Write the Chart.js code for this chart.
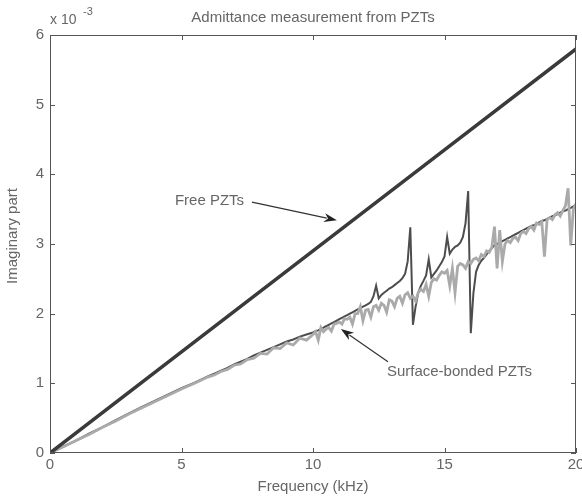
<!DOCTYPE html>
<html>
<head>
<meta charset="utf-8">
<script src="https://cdn.jsdelivr.net/npm/chart.js@4.4.1/dist/chart.umd.min.js"></script>
<style>
html,body{margin:0;padding:0;background:#fff;overflow:hidden;}
#wrap{position:relative;width:600px;height:498px;}
</style>
</head>
<body>
<div id="wrap"><canvas id="c" width="600" height="498"></canvas></div>
<script>
// ---- data (imaginary part, units of 1e-3) ----
const xTicks = [0, 5, 10, 15, 20];
const yTicks = [0, 1, 2, 3, 4, 5, 6];

const freeFreq = [0, 5, 10, 15, 20];
const freeVals = [0, 1.45, 2.90, 4.35, 5.80];

const bondFreq = [
 0, 0.5, 1, 1.5, 2, 2.5, 3, 3.5, 4, 4.5, 5, 5.5,
 6.0, 6.25, 6.5, 6.75, 7.0, 7.25, 7.5, 7.75, 8.0, 8.25, 8.5, 8.75, 9.0, 9.25, 9.5, 9.75,
 10.0, 10.1, 10.2, 10.3, 10.4, 10.5, 10.6, 10.7, 10.8, 10.9,
 11.0, 11.1, 11.2, 11.3, 11.4, 11.5, 11.6, 11.7, 11.8, 11.9,
 12.0, 12.1, 12.2, 12.3, 12.4, 12.5, 12.6, 12.7, 12.8, 12.9,
 13.0, 13.1, 13.2, 13.3, 13.4, 13.5, 13.6, 13.7, 13.8, 13.9,
 14.0, 14.1, 14.2, 14.3, 14.4, 14.5, 14.6, 14.7, 14.8, 14.9,
 15.0, 15.1, 15.2, 15.3, 15.4, 15.5, 15.6, 15.7, 15.8, 15.9,
 16.0, 16.1, 16.2, 16.3, 16.4, 16.5, 16.6, 16.7, 16.8, 16.9,
 17.0, 17.1, 17.2, 17.3, 17.4, 17.5, 17.6, 17.7, 17.8, 17.9,
 18.0, 18.1, 18.2, 18.3, 18.4, 18.5, 18.6, 18.7, 18.8, 18.9,
 19.0, 19.1, 19.2, 19.3, 19.4, 19.5, 19.6, 19.7, 19.8, 19.9,
 20.0
];

const bondedDark = [
 0, 0.09, 0.18, 0.28, 0.37, 0.47, 0.57, 0.66, 0.75, 0.84, 0.93, 1.01,
 1.10, 1.14, 1.18, 1.22, 1.27, 1.31, 1.35, 1.40, 1.44, 1.48, 1.52, 1.56, 1.60, 1.63, 1.67, 1.70,
 1.73, 1.75, 1.76, 1.78, 1.80, 1.82, 1.84, 1.86, 1.88, 1.90,
 1.92, 1.94, 1.96, 1.98, 2.00, 2.02, 2.04, 2.06, 2.08, 2.10,
 2.12, 2.14, 2.17, 2.25, 2.40, 2.22, 2.27, 2.30, 2.33, 2.36,
 2.38, 2.41, 2.44, 2.47, 2.51, 2.57, 2.75, 3.24, 1.84, 2.10,
 2.30, 2.40, 2.47, 2.55, 2.78, 2.52, 2.57, 2.62, 2.68, 2.74,
 2.82, 3.10, 2.86, 2.92, 2.96, 2.98, 3.02, 3.10, 3.30, 3.76,
 1.72, 2.30, 2.60, 2.70, 2.76, 2.80, 2.85, 2.90, 2.94, 2.98,
 3.00, 3.02, 3.04, 3.06, 3.08, 3.10, 3.12, 3.14, 3.16, 3.18,
 3.20, 3.22, 3.24, 3.26, 3.27, 3.29, 3.31, 3.33, 3.34, 3.36,
 3.38, 3.40, 3.41, 3.43, 3.45, 3.47, 3.48, 3.50, 3.52, 3.54,
 3.56
];

const bondedLight = [
 0, 0.09, 0.18, 0.27, 0.37, 0.46, 0.56, 0.65, 0.74, 0.83, 0.92, 1.00,
 1.09, 1.12, 1.17, 1.20, 1.26, 1.28, 1.34, 1.36, 1.43, 1.42, 1.51, 1.50, 1.58, 1.55, 1.65, 1.62,
 1.70, 1.74, 1.62, 1.80, 1.74, 1.78, 1.80, 1.75, 1.85, 1.86,
 1.88, 1.85, 1.93, 1.92, 1.95, 1.85, 2.00, 2.00, 2.10, 1.90,
 2.05, 2.06, 1.95, 2.10, 2.12, 2.05, 2.15, 2.12, 2.02, 2.20,
 2.18, 2.10, 2.22, 2.25, 2.15, 2.27, 2.30, 2.22, 2.25, 2.18,
 2.30, 2.35, 2.32, 2.42, 2.25, 2.45, 2.50, 2.48, 2.55, 2.60,
 2.58, 2.62, 2.40, 2.65, 2.30, 2.68, 2.72, 2.70, 2.65, 2.75,
 2.72, 2.78, 2.80, 2.76, 2.85, 2.82, 2.90, 2.88, 2.95, 3.25,
 2.65, 3.20, 2.75, 3.00, 3.05, 3.02, 3.08, 3.10, 3.05, 3.15,
 3.18, 3.15, 3.22, 3.25, 3.20, 3.30, 3.28, 3.32, 2.82, 3.35,
 3.38, 3.35, 3.42, 3.45, 3.40, 3.48, 3.55, 3.80, 2.98, 3.50,
 3.58
];

// ---- texts ----
const titleText = 'Admittance measurement from PZTs';
const xTitle = 'Frequency (kHz)';
const yTitle = 'Imaginary part';
const freeLabel = 'Free PZTs';
const bondedLabel = 'Surface-bonded PZTs';

const FONT = '"Liberation Sans", Arial, sans-serif';
const TXT = '#666';

function pts(xs, ys){ return xs.map((x,i)=>({x:x, y:ys[i]})); }

function arrow(ctx, x0, y0, x1, y1){
  const ang = Math.atan2(y1-y0, x1-x0);
  const hl = 13, hw = 4.5;
  ctx.save();
  ctx.strokeStyle = '#333'; ctx.fillStyle = '#222'; ctx.lineWidth = 1.2;
  ctx.beginPath(); ctx.moveTo(x0,y0);
  ctx.lineTo(x1 - Math.cos(ang)*hl*0.8, y1 - Math.sin(ang)*hl*0.8); ctx.stroke();
  ctx.beginPath();
  ctx.moveTo(x1,y1);
  ctx.lineTo(x1 - Math.cos(ang)*hl - Math.sin(ang)*hw, y1 - Math.sin(ang)*hl + Math.cos(ang)*hw);
  ctx.lineTo(x1 - Math.cos(ang)*hl*0.7, y1 - Math.sin(ang)*hl*0.7);
  ctx.lineTo(x1 - Math.cos(ang)*hl + Math.sin(ang)*hw, y1 - Math.sin(ang)*hl - Math.cos(ang)*hw);
  ctx.closePath(); ctx.fill();
  ctx.restore();
}

const decor = {
  id: 'decor',
  afterDraw(chart){
    const ctx = chart.ctx, a = chart.chartArea;
    const xs = chart.scales.x, ys = chart.scales.y;
    ctx.save();
    // frame
    ctx.strokeStyle = '#555'; ctx.lineWidth = 1;
    ctx.strokeRect(a.left+0.5, a.top+0.5, a.right-a.left-1, a.bottom-a.top-1);
    // inward ticks
    ctx.beginPath();
    xTicks.forEach(v=>{
      const p = Math.round(xs.getPixelForValue(v))+0.5;
      ctx.moveTo(p, a.bottom); ctx.lineTo(p, a.bottom-5);
      ctx.moveTo(p, a.top); ctx.lineTo(p, a.top+5);
    });
    yTicks.forEach(v=>{
      const p = Math.round(ys.getPixelForValue(v))+0.5;
      ctx.moveTo(a.left, p); ctx.lineTo(a.left+5, p);
      ctx.moveTo(a.right, p); ctx.lineTo(a.right-5, p);
    });
    ctx.stroke();
    // titles
    ctx.fillStyle = TXT;
    ctx.font = '15px ' + FONT;
    ctx.textAlign = 'center'; ctx.textBaseline = 'middle';
    ctx.fillText(titleText, (a.left+a.right)/2, 18);
    ctx.fillText(xTitle, (a.left+a.right)/2, 487);
    ctx.save();
    ctx.translate(13, (a.top+a.bottom)/2 - 8);
    ctx.rotate(-Math.PI/2);
    ctx.fillText(yTitle, 0, 0);
    ctx.restore();
    // exponent
    ctx.textAlign = 'left';
    ctx.font = '14px ' + FONT;
    ctx.fillText('x 10', a.left, 20);
    ctx.font = '11px ' + FONT;
    ctx.fillText('-3', a.left+33, 12);
    // annotations
    ctx.font = '15px ' + FONT;
    ctx.textBaseline = 'middle';
    ctx.fillText(freeLabel, xs.getPixelForValue(4.75), ys.getPixelForValue(3.62));
    ctx.fillText(bondedLabel, xs.getPixelForValue(12.81), ys.getPixelForValue(1.17));
    arrow(ctx, xs.getPixelForValue(7.68), ys.getPixelForValue(3.60), xs.getPixelForValue(10.91), ys.getPixelForValue(3.34));
    arrow(ctx, xs.getPixelForValue(12.85), ys.getPixelForValue(1.31), xs.getPixelForValue(11.06), ys.getPixelForValue(1.78));
    ctx.restore();
  }
};

new Chart(document.getElementById('c'), {
  type: 'line',
  data: {
    datasets: [
      { label: 'Free PZTs', data: pts(freeFreq, freeVals), borderColor: '#3a3a3a', borderWidth: 3.5, pointRadius: 0, order: 1 },
      { label: 'Surface-bonded PZTs (light)', data: pts(bondFreq, bondedLight), borderColor: '#aaaaaa', borderWidth: 2.8, pointRadius: 0, order: 2 },
      { label: 'Surface-bonded PZTs (dark)', data: pts(bondFreq, bondedDark), borderColor: '#4d4d4d', borderWidth: 2, pointRadius: 0, order: 3 }
    ]
  },
  options: {
    responsive: false,
    animation: false,
    events: [],
    layout: { padding: { top: 35, right: 24, left: 0, bottom: 0 } },
    plugins: { legend: { display: false }, title: { display: false }, tooltip: { enabled: false } },
    scales: {
      x: {
        type: 'linear', min: 0, max: 20,
        afterFit(s){ s.height = 45; },
        afterBuildTicks(s){ s.ticks = xTicks.map(v=>({value:v})); },
        grid: { display: false, drawTicks: false },
        border: { display: false },
        ticks: { color: TXT, padding: 3, font: { family: FONT, size: 15 }, maxRotation: 0, autoSkip: false }
      },
      y: {
        type: 'linear', min: 0, max: 6,
        afterFit(s){ s.width = 50; },
        afterBuildTicks(s){ s.ticks = yTicks.map(v=>({value:v})); },
        grid: { display: false, drawTicks: false },
        border: { display: false },
        ticks: { color: TXT, padding: 6, font: { family: FONT, size: 15 } }
      }
    }
  },
  plugins: [decor]
});
</script>
</body>
</html>
